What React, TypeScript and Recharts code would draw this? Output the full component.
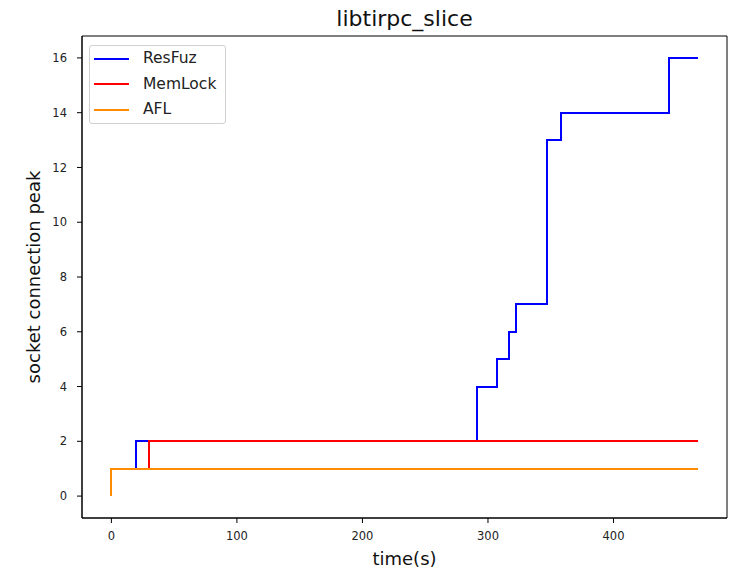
import { LineChart, Line, XAxis, YAxis, Legend, ReferenceArea } from "recharts";

// step points (time in s, socket connection peak)
const resfuzTime = [0, 20, 291, 307, 317, 322, 347, 358, 444, 467];
const resfuzPeak = [1, 2, 4, 5, 6, 7, 13, 14, 16, 16];
const memlockTime = [0, 30, 467];
const memlockPeak = [1, 2, 2];
const aflTime = [0, 0, 467];
const aflPeak = [0, 1, 1];

const xTicks = [0, 100, 200, 300, 400];
const yTicks = [0, 2, 4, 6, 8, 10, 12, 14, 16];
const xDomain = [-23.4, 490.4];
const yDomain = [-0.8, 16.8];

const toRows = (xs: number[], ys: number[]) => xs.map((x, i) => ({ x, y: ys[i] }));

const series = [
  { name: "ResFuz", color: "#0000ff", data: toRows(resfuzTime, resfuzPeak) },
  { name: "MemLock", color: "#ff0000", data: toRows(memlockTime, memlockPeak) },
  { name: "AFL", color: "#ff8c00", data: toRows(aflTime, aflPeak) },
];

const W = 741;
const H = 571;
const FONT = "'DejaVu Sans', sans-serif";
const tickStyle = { fontSize: 11.5, fill: "#222", fontFamily: FONT };

function LegendBox() {
  return (
    <div
      style={{
        position: "relative",
        width: 137,
        height: 79,
        boxSizing: "border-box",
        border: "1px solid #d0d0d0",
        borderRadius: 3,
        background: "rgba(255,255,255,0.8)",
        fontFamily: FONT,
      }}
    >
      {series.map((s, i) => (
        <div key={s.name}>
          <div style={{ position: "absolute", left: 4, top: 11.5 + i * 25.5, width: 35, height: 2, background: s.color }} />
          <div style={{ position: "absolute", left: 53, top: 3 + i * 25.5, fontSize: 15.5, lineHeight: "19px", color: "#222" }}>
            {s.name}
          </div>
        </div>
      ))}
    </div>
  );
}

export default function App() {
  return (
    <div style={{ position: "absolute", left: 0, top: 0, width: W, height: H, background: "#fff" }}>
      <LineChart width={W} height={H} margin={{ top: 36, right: 14, bottom: 33, left: 22 }}>
        <XAxis
          type="number"
          dataKey="x"
          domain={xDomain}
          ticks={xTicks}
          allowDataOverflow
          height={20}
          tickSize={5}
          tickMargin={9}
          stroke="#000"
          tick={tickStyle}
        />
        <YAxis
          type="number"
          domain={yDomain}
          ticks={yTicks}
          allowDataOverflow
          width={60}
          tickSize={5}
          tickMargin={10}
          stroke="#000"
          tick={tickStyle}
        />
        {/* axes frame */}
        <ReferenceArea x1={xDomain[0]} x2={xDomain[1]} y1={yDomain[0]} y2={yDomain[1]} fill="none" stroke="#000" strokeWidth={1} />
        <Legend
          layout="horizontal"
          verticalAlign="middle"
          align="center"
          wrapperStyle={{ left: 89, top: 45, width: 137, height: 79 }}
          content={() => <LegendBox />}
        />
        {series.map((s) => (
          <Line
            key={s.name}
            data={s.data}
            dataKey="y"
            name={s.name}
            type="stepAfter"
            stroke={s.color}
            strokeWidth={2}
            shapeRendering="crispEdges"
            dot={false}
            activeDot={false}
            isAnimationActive={false}
          />
        ))}
      </LineChart>
      <svg width={W} height={H} style={{ position: "absolute", left: 0, top: 0, pointerEvents: "none" }}>
        <text x={404.5} y={26} textAnchor="middle" fontSize={22} fontFamily={FONT} fill="#111">
          libtirpc_slice
        </text>
        <text x={404.5} y={565} textAnchor="middle" fontSize={18} fontFamily={FONT} fill="#111">
          time(s)
        </text>
        <text x={40} y={277} textAnchor="middle" fontSize={18} fontFamily={FONT} fill="#111" transform="rotate(-90 40 277)">
          socket connection peak
        </text>
      </svg>
    </div>
  );
}
